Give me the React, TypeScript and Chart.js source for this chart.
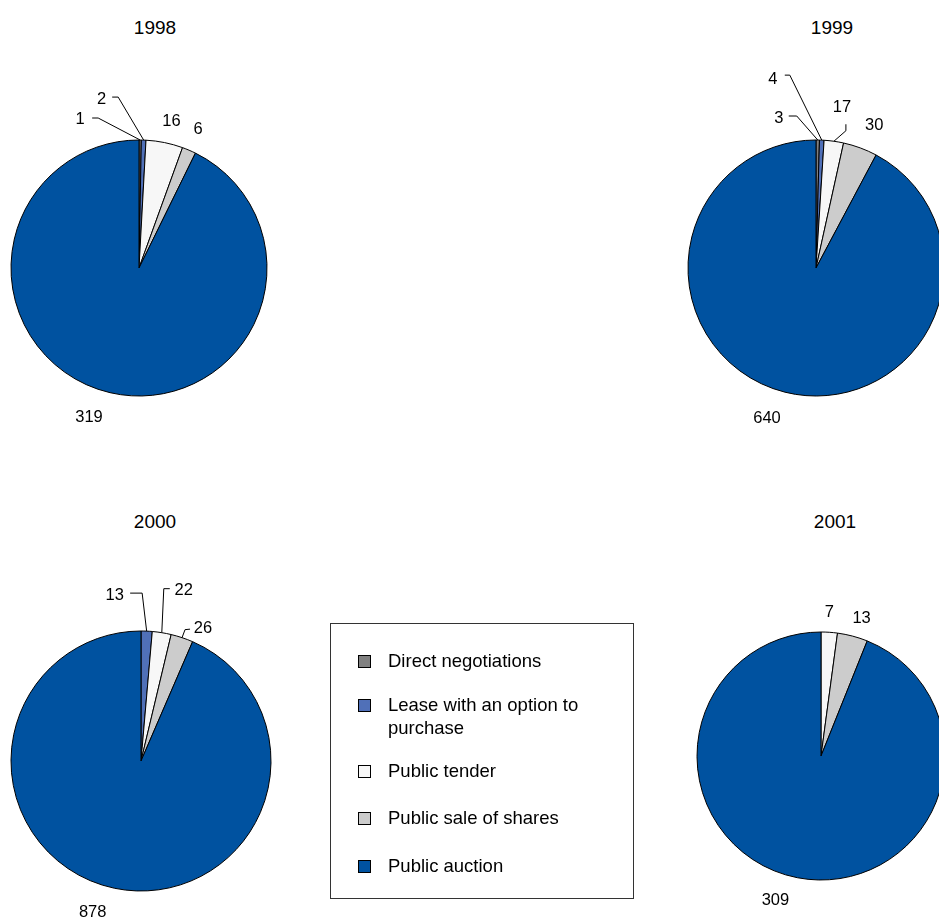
import React, { useEffect, useRef } from "react";
import { Chart, registerables } from "chart.js";

Chart.register(...registerables);

const categories = [
  "Direct negotiations",
  "Lease with an option to purchase",
  "Public tender",
  "Public sale of shares",
  "Public auction",
];
const years = ["1998", "1999", "2000", "2001"];
const values1998 = [1, 2, 16, 6, 319];
const values1999 = [3, 4, 17, 30, 640];
const values2000 = [0, 13, 22, 26, 878];
const values2001 = [0, 0, 7, 13, 309];

const colors = ["#808080", "#5070B8", "#F7F7F7", "#CCCCCC", "#0052A0"];
const FONT = "'Liberation Sans', Arial, Helvetica, sans-serif";

// label placement styles: offset of text from the slice's outer mid point, optional leader points (relative)
type LabelStyle = { dx: number; dy: number; leader?: number[][] };

const pies = [
  {
    year: years[0], values: values1998, cx: 139, cy: 268, r: 128,
    labels: [
      { dx: -60, dy: -21, leader: [[-48, -22], [-42, -22]] },
      { dx: -42, dy: -41, leader: [[-31.5, -43], [-25.5, -43]] },
      { dx: 7, dy: -21 },
      { dx: 9, dy: -21 },
      { dx: -21, dy: 25 },
    ] as LabelStyle[],
    titleX: 155, titleY: 28,
  },
  {
    year: years[1], values: values1999, cx: 816, cy: 268, r: 128,
    labels: [
      { dx: -39, dy: -22, leader: [[-29, -24], [-21, -24]] },
      { dx: -49, dy: -61, leader: [[-37, -65], [-32, -65]] },
      { dx: 8, dy: -34, leader: [[12, -17], [12, -10.5]] },
      { dx: 14, dy: -22 },
      { dx: -18, dy: 26 },
    ] as LabelStyle[],
    titleX: 832, titleY: 28,
  },
  {
    year: years[2], values: values2000, cx: 141, cy: 761, r: 130,
    labels: [
      { dx: 0, dy: 0 },
      { dx: -32, dy: -36, leader: [[-16.5, -38], [-4.5, -38]] },
      { dx: 22, dy: -42, leader: [[8, -44], [2, -44]] },
      { dx: 21, dy: -9, leader: [[8, -8.5], [3, -8]] },
      { dx: -22, dy: 24 },
    ] as LabelStyle[],
    titleX: 155, titleY: 522,
  },
  {
    year: years[3], values: values2001, cx: 821, cy: 756, r: 124,
    labels: [
      { dx: 0, dy: 0 },
      { dx: 0, dy: 0 },
      { dx: 0, dy: -20 },
      { dx: 9, dy: -18 },
      { dx: -22, dy: 23 },
    ] as LabelStyle[],
    titleX: 835, titleY: 522,
  },
];

const CANVAS = 440;

const labelPlugin = {
  id: "sliceLabels",
  afterDatasetsDraw(chart: any) {
    const styles: LabelStyle[] = chart.options.plugins.sliceLabels.styles;
    const meta = chart.getDatasetMeta(0);
    const data = chart.data.datasets[0].data;
    const ctx = chart.ctx;
    ctx.save();
    ctx.font = `16.5px ${FONT}`;
    ctx.fillStyle = "#000";
    ctx.strokeStyle = "#000";
    ctx.lineWidth = 1;
    ctx.textAlign = "center";
    ctx.textBaseline = "middle";
    meta.data.forEach((el: any, i: number) => {
      const v = data[i];
      if (!v) return;
      const p = el.getProps(["x", "y", "startAngle", "endAngle", "outerRadius"], true);
      const mid = (p.startAngle + p.endAngle) / 2;
      const ax = p.x + Math.cos(mid) * p.outerRadius;
      const ay = p.y + Math.sin(mid) * p.outerRadius;
      const st = styles[i];
      if (st.leader) {
        ctx.beginPath();
        st.leader.forEach((pt, k) => {
          const px = ax + pt[0];
          const py = ay + pt[1];
          if (k === 0) ctx.moveTo(px, py);
          else ctx.lineTo(px, py);
        });
        ctx.lineTo(ax, ay);
        ctx.stroke();
      }
      ctx.fillText(String(v), ax + st.dx, ay + st.dy);
    });
    ctx.restore();
  },
};

function Pie({ cfg }: { cfg: (typeof pies)[number] }) {
  const ref = useRef<HTMLCanvasElement | null>(null);
  useEffect(() => {
    if (!ref.current) return;
    const chart = new Chart(ref.current, {
      type: "pie",
      data: {
        labels: categories,
        datasets: [
          {
            data: cfg.values,
            backgroundColor: colors,
            borderColor: "#000",
            borderWidth: (c: any) => (c.raw === 0 ? 0 : 1),
          },
        ],
      },
      options: {
        responsive: false,
        maintainAspectRatio: false,
        animation: false,
        radius: cfg.r,
        layout: { padding: 0 },
        plugins: {
          legend: { display: false },
          tooltip: { enabled: false },
          sliceLabels: { styles: cfg.labels },
        } as any,
      } as any,
      plugins: [labelPlugin],
    });
    return () => chart.destroy();
  }, [cfg]);
  return (
    <>
      <canvas
        ref={ref}
        width={CANVAS}
        height={CANVAS}
        style={{
          position: "absolute",
          left: cfg.cx - CANVAS / 2,
          top: cfg.cy - CANVAS / 2,
          width: CANVAS,
          height: CANVAS,
          display: "block",
        }}
      />
      <div
        style={{
          position: "absolute",
          left: cfg.titleX - 50,
          top: cfg.titleY - 12,
          width: 100,
          height: 24,
          lineHeight: "24px",
          textAlign: "center",
          fontSize: 19,
          fontFamily: FONT,
          color: "#000",
        }}
      >
        {cfg.year}
      </div>
    </>
  );
}

const legendRows = [
  { idx: 0, top: 661, lines: ["Direct negotiations"] },
  { idx: 1, top: 705, lines: ["Lease with an option to", "purchase"] },
  { idx: 2, top: 771, lines: ["Public tender"] },
  { idx: 3, top: 818, lines: ["Public sale of shares"] },
  { idx: 4, top: 866, lines: ["Public auction"] },
];

export default function App() {
  return (
    <div
      style={{
        position: "absolute",
        left: 0,
        top: 0,
        width: 939,
        height: 924,
        overflow: "hidden",
        background: "#fff",
        fontFamily: FONT,
      }}
    >
      {pies.map((p) => (
        <Pie key={p.year} cfg={p} />
      ))}
      <div
        style={{
          position: "absolute",
          left: 330,
          top: 623,
          width: 302,
          height: 274,
          border: "1px solid #333",
        }}
      />
      {legendRows.map((row) => (
        <React.Fragment key={row.idx}>
          <div
            style={{
              position: "absolute",
              left: 358,
              top: row.top - 6,
              width: 11,
              height: 11,
              border: "1px solid #000",
              background: colors[row.idx],
            }}
          />
          {row.lines.map((ln, k) => (
            <div
              key={k}
              style={{
                position: "absolute",
                left: 388,
                top: row.top - 12 + k * 23,
                height: 24,
                lineHeight: "24px",
                fontSize: 18.5,
                whiteSpace: "nowrap",
                color: "#000",
              }}
            >
              {ln}
            </div>
          ))}
        </React.Fragment>
      ))}
    </div>
  );
}
